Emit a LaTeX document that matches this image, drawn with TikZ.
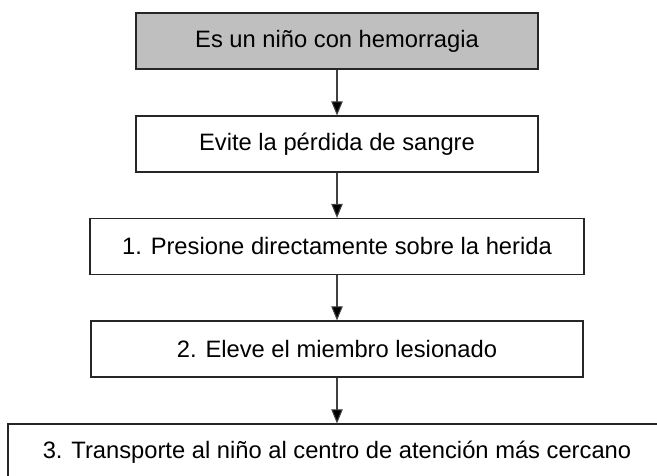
\documentclass[tikz,border=0pt]{standalone}
\usepackage{fontspec}
\setmainfont{Liberation Sans}
\usetikzlibrary{arrows.meta,positioning}

\tikzset{
  paso/.style={draw=black!85, line width=0.9pt, fill=white, align=center,
    font=\fontsize{17.8}{21}\selectfont, inner sep=0pt},
  flecha/.style={black!75, line width=0.8pt,
    -{Triangle[width=8.5pt,length=10.5pt,fill=black]}},
}

\begin{document}
\begin{tikzpicture}[x=0.75pt,y=0.75pt]
  \clip (0,0) rectangle (657,-475);
  \fill[white] (0,0) rectangle (657,-475);

  \node[paso, fill=black!25, minimum width=301.5pt, minimum height=42pt] (nino) at (337,-41) {Es un niño con hemorragia};
  \node[paso, minimum width=301.5pt, minimum height=42pt] (evite) at (337,-144) {Evite la pérdida de sangre};
  \node[paso, minimum width=370.5pt, minimum height=42pt] (presione) at (337,-246.5) {1. Presione directamente sobre la herida};
  \node[paso, minimum width=369pt, minimum height=42pt] (eleve) at (337,-349) {2. Eleve el miembro lesionado};
  \node[paso, minimum width=493.5pt, minimum height=42pt] (transporte) at (337,-452) {3. Transporte al niño al centro de atención más cercano};

  \draw[flecha] (nino) -- (evite);
  \draw[flecha] (evite) -- (presione);
  \draw[flecha] (presione) -- (eleve);
  \draw[flecha] (eleve) -- (transporte);
\end{tikzpicture}
\end{document}
